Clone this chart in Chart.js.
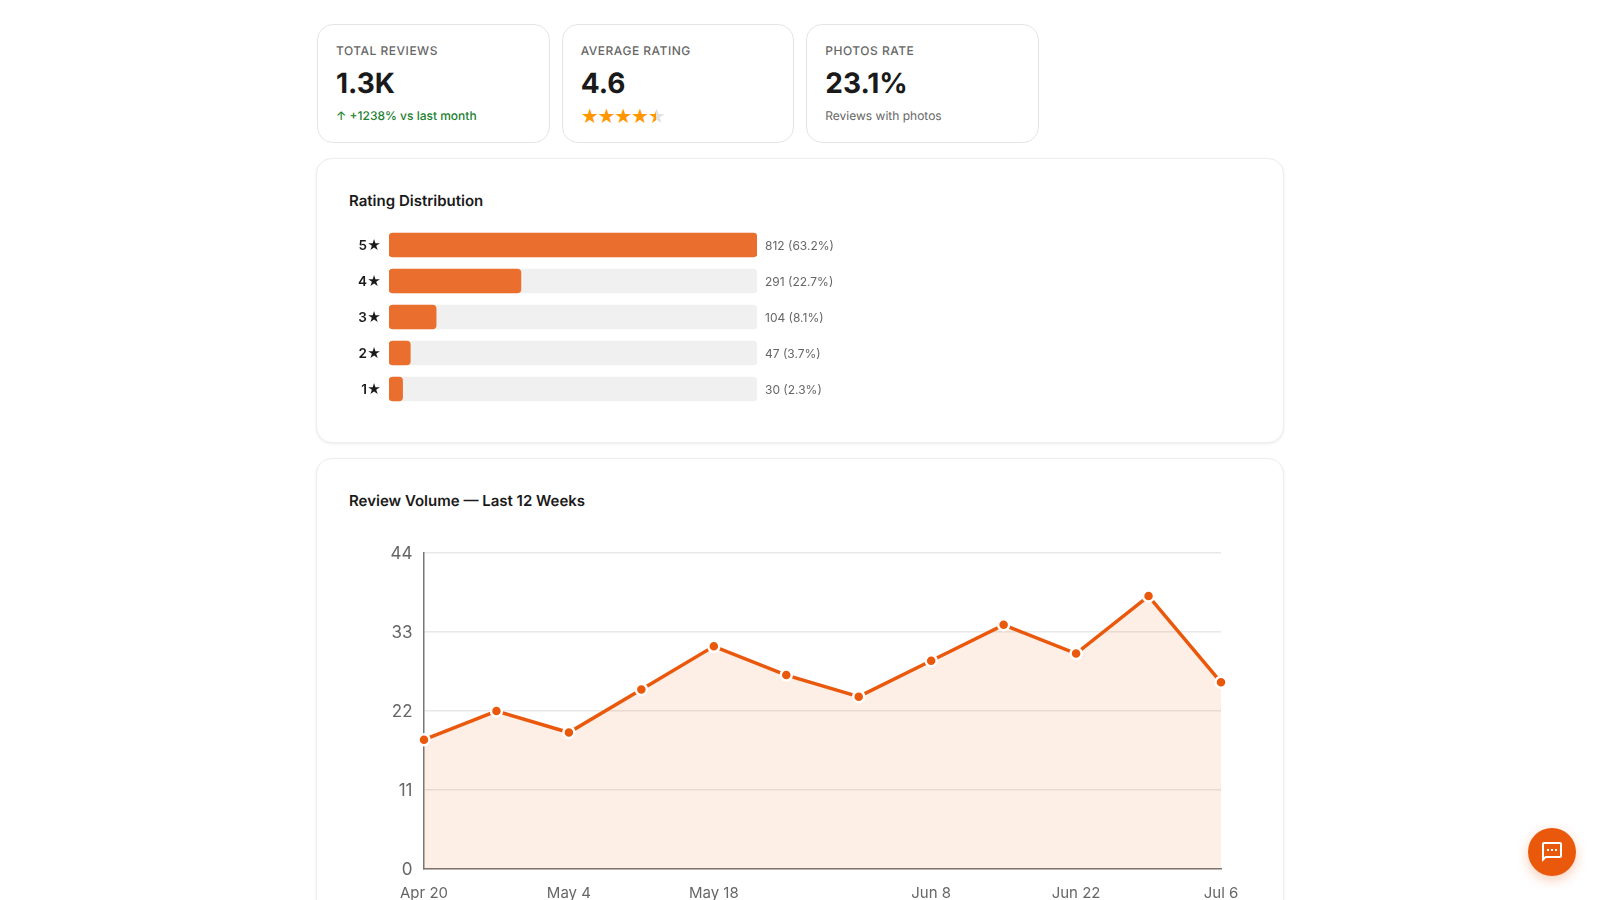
<!DOCTYPE html>
<html lang="en">
<head>
<meta charset="utf-8">
<title>Reviews dashboard</title>
<script src="https://cdn.jsdelivr.net/npm/chart.js@4/dist/chart.umd.min.js"></script>
<style>
html,body{margin:0;padding:0;width:1600px;height:900px;overflow:hidden;background:#fff;font-family:Inter,"Noto Sans",sans-serif;color:#1a1a1a;text-rendering:geometricPrecision}
.card,.panel{position:absolute;box-sizing:border-box;background:#fff}
.card{top:24px;width:232.7px;height:119px;border:1px solid #e5e5e5;border-radius:16px}
.panel{left:316px;width:968px;border:1px solid #eeeeee;border-radius:16px;box-shadow:0 1px 3px rgba(0,0,0,.08)}
.lbl{position:absolute;left:18px;top:18px;font-size:12px;font-weight:500;letter-spacing:.5px;color:#666;line-height:15px;white-space:nowrap}
.val{position:absolute;left:18px;top:38px;font-size:28px;font-weight:700;color:#1a1a1a;line-height:40px;white-space:nowrap}
.sub{position:absolute;left:18px;top:83px;font-size:12px;color:#666;line-height:16px;white-space:nowrap}
.sub.up{color:#1a7f2e;font-weight:500}
.stars{position:absolute;left:18px;top:79px;font-family:"DejaVu Sans",sans-serif;font-size:20px;line-height:24px;color:#ff9800;white-space:nowrap;letter-spacing:-1.15px}
.half{background:linear-gradient(90deg,#ff9800 50%,#e0e0e0 50%);-webkit-background-clip:text;background-clip:text;color:transparent}
h2{position:absolute;left:32px;margin:0;font-size:15px;font-weight:600;line-height:20px;color:#1a1a1a;white-space:nowrap}
canvas{position:absolute;display:block}
.fab{position:absolute;left:1528px;top:828px;width:48px;height:48px;border-radius:50%;background:#ea580c;box-shadow:0 4px 12px rgba(234,88,12,.3);display:flex;align-items:center;justify-content:center}
</style>
</head>
<body>
<div class="card" style="left:317px"><div class="lbl">TOTAL REVIEWS</div><div class="val">1.3K</div><div class="sub up">↑ +1238% vs last month</div></div>
<div class="card" style="left:561.7px"><div class="lbl">AVERAGE RATING</div><div class="val">4.6</div><div class="stars">★★★★<span class="half">★</span></div></div>
<div class="card" style="left:806.3px"><div class="lbl">PHOTOS RATE</div><div class="val">23.1%</div><div class="sub">Reviews with photos</div></div>

<div class="panel" style="top:158px;height:285px"><h2 style="top:32px">Rating Distribution</h2></div>
<div class="panel" style="top:458px;height:470px"><h2 style="top:32px">Review Volume — Last 12 Weeks</h2></div>

<canvas id="dist" width="558" height="180" style="left:349px;top:227px;width:558px;height:180px"></canvas>
<canvas id="vol" width="890" height="370" style="left:370px;top:540px;width:890px;height:370px"></canvas>

<div class="fab"><svg width="24" height="24" viewBox="0 0 24 24" fill="#fff"><path d="M20 2H4c-1.1 0-2 .9-2 2v18l4-4h14c1.1 0 2-.9 2-2V4c0-1.1-.9-2-2-2zm0 14H5.2L4 17.2V4h16v12z"/><path d="M7 9h2v2H7zm4 0h2v2h-2zm4 0h2v2h-2z"/></svg></div>

<script>
const ratingLabels = ['5★','4★','3★','2★','1★'];
const ratingCounts = [812,291,104,47,30];
const ratingTrack = [812,812,812,812,812];
const ratingNotes = ['812 (63.2%)','291 (22.7%)','104 (8.1%)','47 (3.7%)','30 (2.3%)'];

const weekLabels = ['Apr 20','Apr 27','May 4','May 11','May 18','May 25','Jun 1','Jun 8','Jun 15','Jun 22','Jun 29','Jul 6'];
const weekTicksShown = ['Apr 20','May 4','May 18','Jun 8','Jun 22','Jul 6'];
const weekReviews = [18,22,19,25,31,27,24,29,34,30,38,26];
const yTicks = [0,11,22,33,44];

function clearPad(s){s.paddingTop=0;s.paddingBottom=0;s.paddingLeft=0;s.paddingRight=0}

const notesPlugin = {
  id:'notes',
  afterDatasetsDraw(chart){
    const {ctx,scales:{x,y}} = chart;
    ctx.save();
    ctx.font = '400 12px Inter, sans-serif';
    ctx.fillStyle = '#666666';
    ctx.textAlign = 'left';
    ctx.textBaseline = 'middle';
    ratingNotes.forEach((t,i)=>ctx.fillText(t, x.right + 8, y.getPixelForValue(i) + 1));
    ctx.restore();
  }
};

new Chart(document.getElementById('dist'),{
  type:'bar',
  data:{labels:ratingLabels,datasets:[
    {label:'Reviews',data:ratingCounts,backgroundColor:'#ea6f2e',borderRadius:4,borderSkipped:false,barThickness:24,order:1},
    {label:'Track',data:ratingTrack,backgroundColor:'#f0f0f0',borderRadius:4,borderSkipped:false,barThickness:24,order:2}
  ]},
  options:{
    indexAxis:'y',responsive:false,animation:false,devicePixelRatio:1,
    layout:{padding:{right:150}},
    datasets:{bar:{grouped:false}},
    plugins:{legend:{display:false},tooltip:{enabled:false}},
    scales:{
      x:{display:false,min:0,max:812,afterFit(s){s.height=0;clearPad(s)}},
      y:{
        afterFit(s){s.width=40;clearPad(s)},
        grid:{display:false,drawTicks:false},border:{display:false},
        ticks:{padding:8,labelOffset:1.3,color:'#1a1a1a',font:{family:'Inter, "DejaVu Sans"',size:13.5,weight:'600'}}
      }
    }
  },
  plugins:[notesPlugin]
});

new Chart(document.getElementById('vol'),{
  type:'line',
  data:{labels:weekLabels,datasets:[{
    label:'Reviews',data:weekReviews,
    borderColor:'#ea580c',borderWidth:3.5,
    backgroundColor:'rgba(234,88,12,0.1)',fill:'origin',tension:0,
    pointRadius:5.5,pointBorderWidth:2.5,pointBackgroundColor:'#ea580c',pointBorderColor:'#ffffff',
    clip:false
  }]},
  options:{
    responsive:false,animation:false,devicePixelRatio:1,
    layout:{padding:{top:13,right:39}},
    plugins:{legend:{display:false},tooltip:{enabled:false}},
    scales:{
      x:{
        afterFit(s){s.height=41;clearPad(s)},
        grid:{display:false,drawTicks:false},
        border:{color:'#777777',width:1.5},
        offset:false,
        ticks:{autoSkip:false,maxRotation:0,padding:15.5,color:'#666666',font:{family:'Inter',size:15},
          callback(v){const l=this.getLabelForValue(v);return weekTicksShown.includes(l)?l:''}}
      },
      y:{
        min:yTicks[0],max:yTicks[yTicks.length-1],
        afterFit(s){s.width=54;clearPad(s)},
        afterBuildTicks(s){s.ticks=yTicks.map(value=>({value}))},
        grid:{color:'#e8e8e8',lineWidth:1.5,drawTicks:false},
        border:{color:'#777777',width:1.5},
        ticks:{padding:11.5,labelOffset:1.3,color:'#666666',font:{family:'Inter',size:17}}
      }
    }
  }
});
</script>
</body>
</html>
